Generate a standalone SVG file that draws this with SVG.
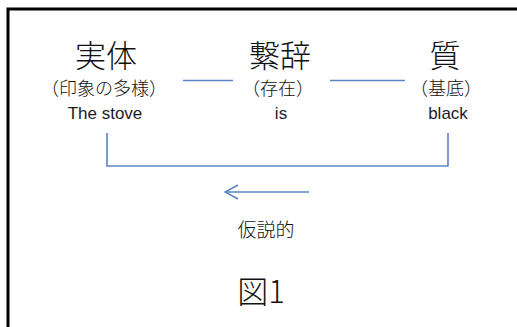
<svg xmlns="http://www.w3.org/2000/svg" width="517" height="327" viewBox="0 0 517 327">
<style>
.jp{font-family:"Noto Sans CJK JP","Noto Sans",sans-serif;font-weight:300;fill:#111;text-anchor:middle}
.big{font-size:31px}
.sub{font-size:18px}
.en{font-family:"Liberation Sans","Noto Sans",sans-serif;font-size:17px;fill:#1a1a2a;text-anchor:middle}
.ln{stroke:#5a86c5;stroke-width:1.6;fill:none}
</style>
<defs>
<marker id="open" viewBox="0 0 16 16" refX="15" refY="8" markerWidth="16" markerHeight="16" markerUnits="userSpaceOnUse" orient="auto">
<path d="M2,1 L15,8 L2,15" fill="none" stroke="#5a86c5" stroke-width="1.6"/>
</marker>
</defs>
<rect x="8" y="9" width="520" height="330" fill="#fff" stroke="#000" stroke-width="3"/>
<g id="jittai">
<text class="jp big" x="106" y="67">実体</text>
<text class="jp sub" x="104" y="95">（印象の多様）</text>
<text class="en" x="105" y="119">The stove</text>
</g>
<g id="keiji">
<text class="jp big" x="280" y="67">繋辞</text>
<text class="jp sub" x="278" y="95">（存在）</text>
<text class="en" x="281" y="119">is</text>
</g>
<g id="shitsu">
<text class="jp big" x="445" y="67">質</text>
<text class="jp sub" x="446" y="95">（基底）</text>
<text class="en" x="448" y="119">black</text>
</g>
<g id="connectors">
<line class="ln" x1="183" y1="80.5" x2="233" y2="80.5"/>
<line class="ln" x1="330" y1="80.5" x2="405" y2="80.5"/>
<polyline class="ln" points="107,133 107,166 448,166 448,133"/>
<line class="ln" x1="309" y1="192" x2="225" y2="192" marker-end="url(#open)"/>
</g>
<g id="label">
<text class="jp" style="font-size:19px" x="266" y="237">仮説的</text>
</g>
<g id="caption">
<text class="jp big" x="261" y="303">図1</text>
</g>
</svg>
